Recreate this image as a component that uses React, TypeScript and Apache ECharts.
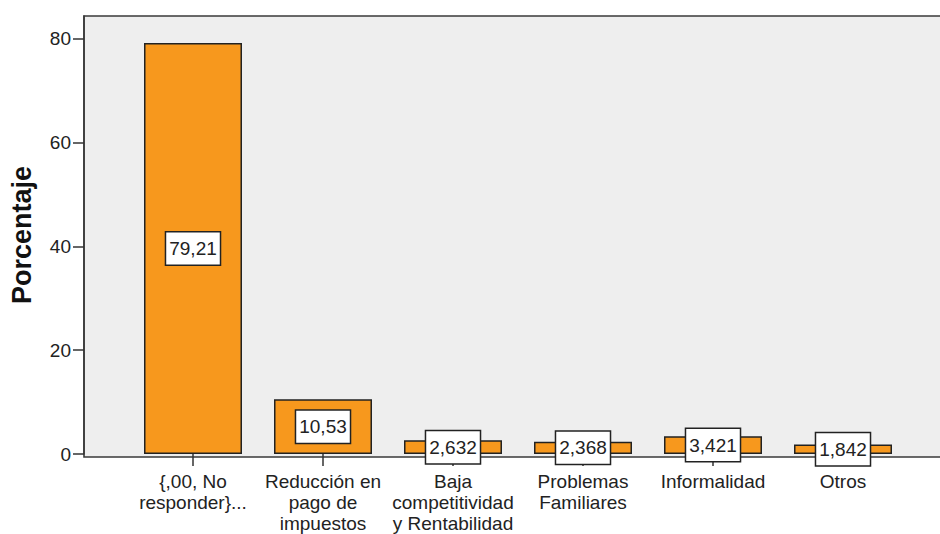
import React, { useEffect, useRef } from "react";
import * as echarts from "echarts";

const categories = [
  "{,00, No\nresponder}...",
  "Reducción en\npago de\nimpuestos",
  "Baja\ncompetitividad\ny Rentabilidad",
  "Problemas\nFamiliares",
  "Informalidad",
  "Otros",
];
const values = [79.21, 10.53, 2.632, 2.368, 3.421, 1.842];
const yTicks = [0, 20, 40, 60, 80];
const yAxisTitle = "Porcentaje";

const FONT = "'Liberation Sans', Arial, sans-serif";

export default function App() {
  const ref = useRef<HTMLDivElement>(null);
  useEffect(() => {
    document.body.style.margin = "0";
    const chart = echarts.init(ref.current!, null, { renderer: "svg" });
    chart.setOption({
      animation: false,
      backgroundColor: "#ffffff",
      grid: { left: 128, right: 32, top: 16, bottom: 77, containLabel: false },
      graphic: [
        {
          type: "rect",
          z: -10,
          shape: { x: 84, y: 16, width: 880, height: 441 },
          style: { fill: "#eeeeee", stroke: "#3a3a3a", lineWidth: 1.6 },
          silent: true,
        },
      ],
      xAxis: {
        type: "category",
        data: categories,
        axisLine: { show: false },
        axisTick: { show: true, alignWithLabel: true, length: 12, lineStyle: { color: "#333", width: 1.5 } },
        axisLabel: {
          color: "#222",
          fontFamily: FONT,
          fontSize: 19,
          lineHeight: 21,
          margin: 17,
          interval: 0,
        },
      },
      yAxis: {
        type: "value",
        min: 0,
        max: 84.4,
        interval: 20,
        offset: 44,
        name: yAxisTitle,
        nameLocation: "middle",
        nameGap: 49,
        nameTextStyle: { fontFamily: FONT, fontSize: 27, fontWeight: "bold", color: "#111" },
        splitLine: { show: false },
        axisLine: { show: true, lineStyle: { color: "#3a3a3a", width: 1.6 } },
        axisTick: { show: true, length: 11, customValues: yTicks, lineStyle: { color: "#333", width: 1.5 } },
        axisLabel: {
          customValues: yTicks,
          color: "#222",
          fontFamily: FONT,
          fontSize: 19,
          margin: 13,
        },
      },
      series: [
        {
          type: "bar",
          data: values,
          barWidth: 98,
          z: 2,
          itemStyle: { color: "#f7981d", borderColor: "#222", borderWidth: 1.5 },
          label: {
            show: true,
            position: "inside",
            formatter: (p: any) => String(p.value).replace(".", ","),
            color: "#222",
            fontFamily: FONT,
            fontSize: 19,
            lineHeight: 20,
            backgroundColor: "#ffffff",
            borderColor: "#222",
            borderWidth: 1.5,
            padding: [7, 3, 5, 3],
          },
        },
      ],
    });
    return () => chart.dispose();
  }, []);
  return <div ref={ref} style={{ width: 940, height: 534 }} />;
}
